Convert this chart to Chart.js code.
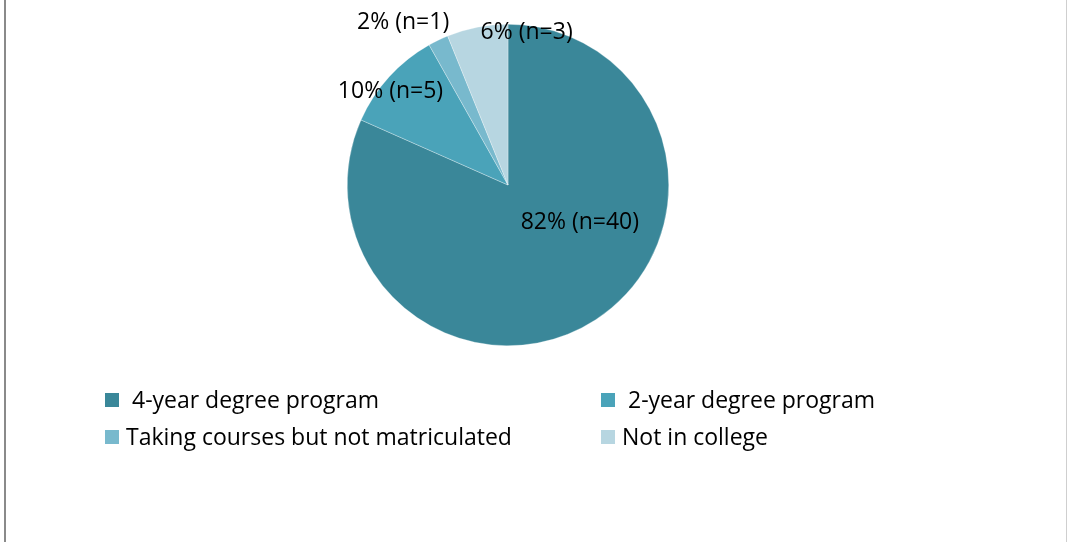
<!DOCTYPE html>
<html>
<head>
<meta charset="utf-8">
<script src="https://cdn.jsdelivr.net/npm/chart.js@4/dist/chart.umd.min.js"></script>
<style>
  html, body { margin: 0; padding: 0; background: #fff; }
  #wrap { position: relative; width: 1067px; height: 542px; }
  #frame { position: absolute; left: 4px; top: -2px; width: 1063px; height: 546px;
           border-left: 2px solid #8a8a8a; border-right: 1px solid #cfcfcf; box-sizing: border-box; }
</style>
</head>
<body>
<div id="wrap">
  <canvas id="pieChart" width="1067" height="542"></canvas>
  <div id="frame"></div>
</div>
<script>
// categories and counts
var categories = [" 4-year degree program", " 2-year degree program", "Taking courses but not matriculated", "Not in college"];
var counts = [40, 5, 1, 3];
var percents = [82, 10, 2, 6];
var sliceColors = ['#3a8799', '#4aa3b9', '#78b9cd', '#b7d6e1'];

// where each slice label sits relative to the slice's middle point
var labelShift = [[28, -31], [-58, -41], [-70, -91], [34, -75]];

var FONT = '23px "Open Sans"';

var sliceLabels = {
    id: 'sliceLabels',
    afterDatasetsDraw: function (chart) {
        var ctx = chart.ctx;
        var arcs = chart.getDatasetMeta(0).data;
        ctx.save();
        ctx.font = FONT;
        ctx.fillStyle = '#000';
        ctx.textAlign = 'center';
        ctx.textBaseline = 'middle';
        arcs.forEach(function (arc, i) {
            var p = arc.tooltipPosition();
            ctx.fillText(percents[i] + '% (n=' + counts[i] + ')', p.x + labelShift[i][0], p.y + labelShift[i][1] + 1);
        });
        ctx.restore();
    }
};

// two column legend under the pie
var gridLegend = {
    id: 'gridLegend',
    afterDraw: function (chart) {
        var ctx = chart.ctx;
        var cols = [105, 601];
        var rows = [400, 437];
        ctx.save();
        ctx.font = FONT;
        ctx.textBaseline = 'middle';
        ctx.textAlign = 'left';
        categories.forEach(function (name, i) {
            var x = cols[i % 2], y = rows[Math.floor(i / 2)];
            ctx.fillStyle = sliceColors[i];
            ctx.fillRect(x, y - 7, 14, 14);
            ctx.fillStyle = '#000';
            ctx.fillText(name, x + 21, y + 1);
        });
        ctx.restore();
    }
};

var ctx = document.getElementById('pieChart').getContext('2d');
var chart = new Chart(ctx, {
    type: 'pie',
    data: {
        labels: categories,
        datasets: [{
            data: counts,
            backgroundColor: sliceColors,
            borderColor: 'rgba(255,255,255,0.6)',
            borderWidth: 0.5,
            hoverOffset: 0
        }]
    },
    options: {
        responsive: false,
        animation: false,
        layout: { padding: { top: 24, bottom: 196, left: 347, right: 398 } },
        plugins: {
            legend: { display: false },
            tooltip: { enabled: false }
        }
    },
    plugins: [sliceLabels, gridLegend]
});
</script>
</body>
</html>
